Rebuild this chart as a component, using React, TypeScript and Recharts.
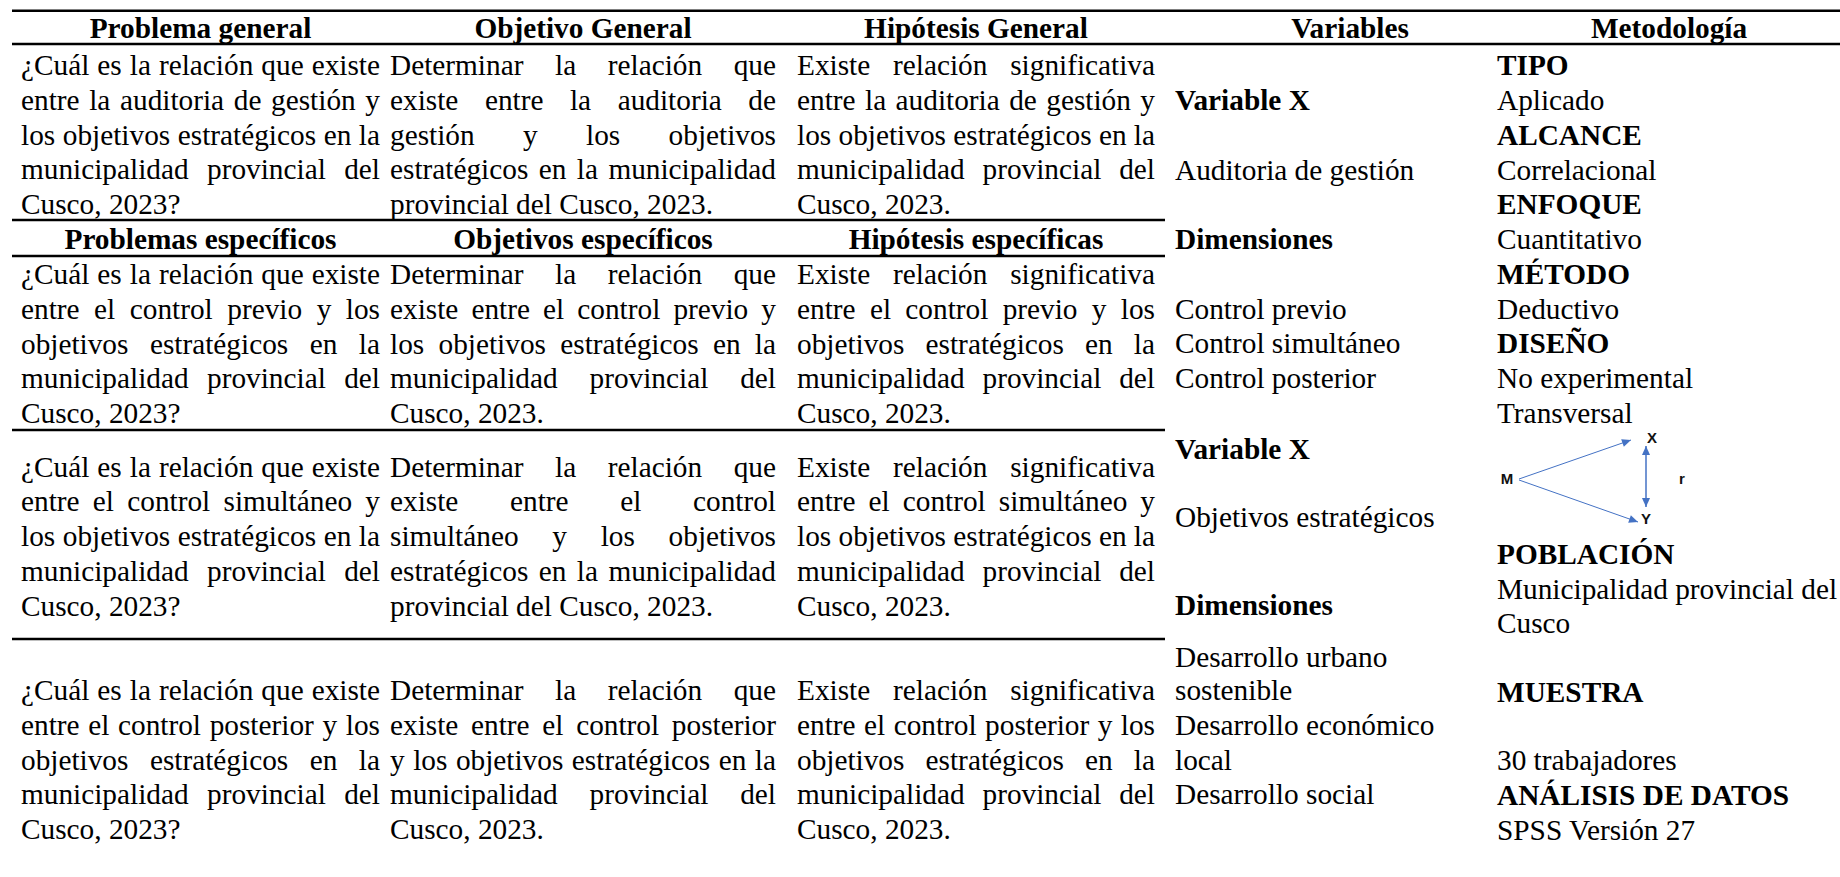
import React from 'react';
import { ComposedChart, XAxis, YAxis, Scatter, Line, ReferenceLine } from 'recharts';

const W = 1840;
const H = 877;
const SERIF = '"Liberation Serif", "Times New Roman", serif';
const SANS = '"Liberation Sans", Arial, sans-serif';
const FS = 29.3;
const PITCH = 34.8;

// table text
const headers = ['Problema general', 'Objetivo General', 'Hipótesis General', 'Variables', 'Metodología'];
const subHeaders = ['Problemas específicos', 'Objetivos específicos', 'Hipótesis específicas'];

const problemas = [
  ['¿Cuál es la relación que existe', 'entre la auditoria de gestión y', 'los objetivos estratégicos en la', 'municipalidad provincial del', 'Cusco, 2023?'],
  ['¿Cuál es la relación que existe', 'entre el control previo y los', 'objetivos estratégicos en la', 'municipalidad provincial del', 'Cusco, 2023?'],
  ['¿Cuál es la relación que existe', 'entre el control simultáneo y', 'los objetivos estratégicos en la', 'municipalidad provincial del', 'Cusco, 2023?'],
  ['¿Cuál es la relación que existe', 'entre el control posterior y los', 'objetivos estratégicos en la', 'municipalidad provincial del', 'Cusco, 2023?'],
];

const objetivos = [
  ['Determinar la relación que', 'existe entre la auditoria de', 'gestión y los objetivos', 'estratégicos en la municipalidad', 'provincial del Cusco, 2023.'],
  ['Determinar la relación que', 'existe entre el control previo y', 'los objetivos estratégicos en la', 'municipalidad provincial del', 'Cusco, 2023.'],
  ['Determinar la relación que', 'existe entre el control', 'simultáneo y los objetivos', 'estratégicos en la municipalidad', 'provincial del Cusco, 2023.'],
  ['Determinar la relación que', 'existe entre el control posterior', 'y los objetivos estratégicos en la', 'municipalidad provincial del', 'Cusco, 2023.'],
];

const hipotesis = [
  ['Existe relación significativa', 'entre la auditoria de gestión y', 'los objetivos estratégicos en la', 'municipalidad provincial del', 'Cusco, 2023.'],
  ['Existe relación significativa', 'entre el control previo y los', 'objetivos estratégicos en la', 'municipalidad provincial del', 'Cusco, 2023.'],
  ['Existe relación significativa', 'entre el control simultáneo y', 'los objetivos estratégicos en la', 'municipalidad provincial del', 'Cusco, 2023.'],
  ['Existe relación significativa', 'entre el control posterior y los', 'objetivos estratégicos en la', 'municipalidad provincial del', 'Cusco, 2023.'],
];

const variablesText = [
  'Variable X', 'Auditoria de gestión', 'Dimensiones', 'Control previo', 'Control simultáneo', 'Control posterior',
  'Variable X', 'Objetivos estratégicos', 'Dimensiones', 'Desarrollo urbano', 'sostenible',
  'Desarrollo económico', 'local', 'Desarrollo social',
];
const variablesHeads = ['Variable X', 'Dimensiones'];

const metodologiaText = [
  'TIPO', 'Aplicado', 'ALCANCE', 'Correlacional', 'ENFOQUE', 'Cuantitativo', 'MÉTODO', 'Deductivo',
  'DISEÑO', 'No experimental', 'Transversal', 'POBLACIÓN', 'Municipalidad provincial del', 'Cusco',
  'MUESTRA', '30 trabajadores', 'ANÁLISIS DE DATOS', 'SPSS Versión 27',
];
const metodologiaHeads = ['TIPO', 'ALCANCE', 'ENFOQUE', 'MÉTODO', 'DISEÑO', 'POBLACIÓN', 'MUESTRA', 'ANÁLISIS DE DATOS'];

const diagramLabels = ['M', 'X', 'Y', 'r'];

// layout
const colBounds = [[21, 380], [390, 776], [797, 1155]];
const headerCenters = [200.5, 583, 976, 1350, 1669];
const HEADER_Y = 38;
const SUBHEADER_Y = 249;
const rowStarts = [75, 284, 476.5, 700];
const VAR_X = 1175;
const variablesY = [110, 180, 249, 319, 353, 388, 459, 527, 615, 667, 700, 735, 770, 804];
const MET_X = 1497;
const metodologiaY = [75, 110, 145, 180, 214, 249, 284, 319, 353, 388, 423, 564, 599, 633, 702, 770, 805, 840];
const diagramPos = [[1507, 478], [1652, 437], [1646, 518], [1682, 478]];
const arrows = [
  { from: [1519, 479], to: [1631, 440], both: false, width: 1 },
  { from: [1519, 480], to: [1638, 522], both: false, width: 1 },
  { from: [1646, 507], to: [1646, 446], both: true, width: 1.5 },
];
const rules = [
  { y: 10.7, x2: W }, { y: 44, x2: W },
  { y: 220, x2: 1165 }, { y: 256, x2: 1165 }, { y: 430, x2: 1165 }, { y: 639, x2: 1165 },
];
const BLUE = '#4472C4';

type Mark = { x: number; y: number; text: string; bold: boolean; anchor: 'start' | 'middle'; justify: number };

const marks: Mark[] = [];
headers.forEach((t, i) => marks.push({ x: headerCenters[i], y: HEADER_Y, text: t, bold: true, anchor: 'middle', justify: 0 }));
subHeaders.forEach((t, i) => marks.push({ x: headerCenters[i], y: SUBHEADER_Y, text: t, bold: true, anchor: 'middle', justify: 0 }));
[problemas, objetivos, hipotesis].forEach((col, c) =>
  col.forEach((lines, r) =>
    lines.forEach((t, k) =>
      marks.push({
        x: colBounds[c][0],
        y: rowStarts[r] + k * PITCH,
        text: t,
        bold: false,
        anchor: 'start',
        justify: k < lines.length - 1 ? colBounds[c][1] - colBounds[c][0] : 0,
      }),
    ),
  ),
);
variablesText.forEach((t, i) =>
  marks.push({ x: VAR_X, y: variablesY[i], text: t, bold: variablesHeads.includes(t), anchor: 'start', justify: 0 }),
);
metodologiaText.forEach((t, i) =>
  marks.push({ x: MET_X, y: metodologiaY[i], text: t, bold: metodologiaHeads.includes(t), anchor: 'start', justify: 0 }),
);

const diagramMarks = diagramLabels.map((t, i) => ({ x: diagramPos[i][0], y: diagramPos[i][1], text: t }));

const ctx = typeof document !== 'undefined' ? document.createElement('canvas').getContext('2d') : null;
function measure(text: string, bold: boolean) {
  if (!ctx) return text.length * FS * 0.45;
  ctx.font = `${bold ? 'bold ' : ''}${FS}px "Liberation Serif"`;
  return ctx.measureText(text).width;
}

const TextMark = (props: any) => {
  const { cx, cy, payload } = props;
  const { text, bold, anchor, justify } = payload as Mark;
  const style = { fontFamily: SERIF, fontSize: FS, fontWeight: bold ? 700 : 400, fill: '#000' };
  const words = text.split(' ');
  if (justify > 0 && words.length > 1) {
    const widths = words.map((w) => measure(w, bold));
    const total = widths.reduce((a, b) => a + b, 0);
    const gap = (justify - total) / (words.length - 1);
    let pos = cx;
    const xs = widths.map((w) => {
      const s = pos;
      pos += w + gap;
      return s;
    });
    return (
      <text y={cy} {...style}>
        {words.map((w, i) => (
          <tspan key={i} x={xs[i]}>{w}</tspan>
        ))}
      </text>
    );
  }
  return (
    <text x={cx} y={cy} textAnchor={anchor} {...style}>
      {text}
    </text>
  );
};

const DiagramLabel = (props: any) => (
  <text
    x={props.cx}
    y={props.cy}
    textAnchor="middle"
    dominantBaseline="central"
    fontFamily={SANS}
    fontSize={15}
    fontWeight={700}
    fill="#111"
  >
    {props.payload.text}
  </text>
);

const arrowDot = (a: (typeof arrows)[number]) => (p: any) => {
  const isEnd = p.index === 1;
  if (!isEnd && !a.both) return <g key={`d${p.index}`} />;
  const [fx, fy] = isEnd ? a.from : a.to;
  const [tx, ty] = isEnd ? a.to : a.from;
  const ang = Math.atan2(ty - fy, tx - fx);
  const len = 9;
  const half = 4;
  const bx = p.cx - Math.cos(ang) * len;
  const by = p.cy - Math.sin(ang) * len;
  const pts = [
    [p.cx, p.cy],
    [bx - Math.sin(ang) * half, by + Math.cos(ang) * half],
    [bx + Math.sin(ang) * half, by - Math.cos(ang) * half],
  ];
  return <polygon key={`d${p.index}`} points={pts.map((q) => q.join(',')).join(' ')} fill={BLUE} />;
};

export default function App() {
  return (
    <div style={{ position: 'absolute', left: 0, top: 0, width: W, height: H, background: '#fff' }}>
      <ComposedChart width={W} height={H} margin={{ top: 0, right: 0, bottom: 0, left: 0 }}>
        <XAxis type="number" dataKey="x" domain={[0, W]} allowDataOverflow hide />
        <YAxis type="number" dataKey="y" domain={[0, H]} allowDataOverflow reversed hide />
        {rules.map((r, i) => (
          <ReferenceLine
            key={i}
            segment={[{ x: 12, y: r.y }, { x: r.x2, y: r.y }]}
            stroke="#000"
            strokeWidth={2.5}
          />
        ))}
        {arrows.map((a, i) => (
          <Line
            key={`a${i}`}
            data={[{ x: a.from[0], y: a.from[1] }, { x: a.to[0], y: a.to[1] }]}
            dataKey="y"
            type="linear"
            stroke={BLUE}
            strokeWidth={a.width}
            dot={arrowDot(a)}
            activeDot={false}
            isAnimationActive={false}
          />
        ))}
        <Scatter data={marks} shape={TextMark} isAnimationActive={false} />
        <Scatter data={diagramMarks} shape={DiagramLabel} isAnimationActive={false} />
      </ComposedChart>
    </div>
  );
}
